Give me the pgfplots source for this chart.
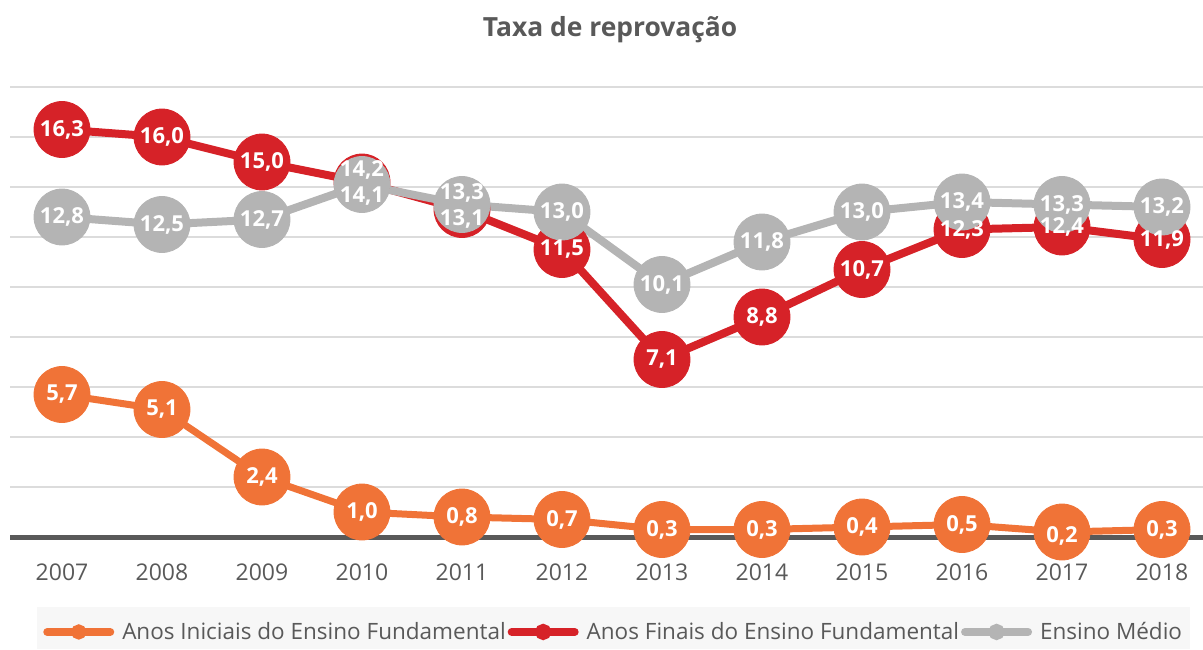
\documentclass[border=0pt]{standalone}
\usepackage{pgfplots}
\pgfplotsset{compat=1.18}
\usepackage{pgfplotstable}
\usepackage{fontspec}
\setmainfont{Open Sans}

\definecolor{cIni}{RGB}{240,115,55}
\definecolor{cFin}{RGB}{214,34,40}
\definecolor{cMed}{RGB}{180,180,180}
\definecolor{cTxt}{RGB}{89,89,89}
\definecolor{cGrid}{RGB}{220,220,220}
\definecolor{cLeg}{RGB}{247,247,247}

% x = ano, y = taxa, dy = deslocamento do rotulo (pt)
\pgfplotstableread{
x y dy
2007 5.7 0
2008 5.1 0
2009 2.4 0
2010 1.0 0
2011 0.8 0
2012 0.7 0
2013 0.3 0
2014 0.3 0
2015 0.4 0
2016 0.5 0
2017 0.2 -2
2018 0.3 0
}\iniciais
\pgfplotstableread{
x y dy
2007 16.3 0
2008 16.0 0
2009 15.0 0
2010 14.2 6
2011 13.1 -4.5
2012 11.5 0
2013 7.1 0
2014 8.8 0
2015 10.7 0
2016 12.3 0
2017 12.4 0
2018 11.9 0
}\finais
\pgfplotstableread{
x y dy
2007 12.8 0
2008 12.5 0
2009 12.7 0
2010 14.1 -6
2011 13.3 6
2012 13.0 0
2013 10.1 0
2014 11.8 0
2015 13.0 0
2016 13.4 0
2017 13.3 0
2018 13.2 0
}\medio

\pgfkeys{/pgf/number format/assume math mode=true}

\pgfplotsset{
  serie/.style={
    color=#1, line width=4pt, mark=*, mark size=14pt,
    mark options={solid, fill=#1, draw=#1, line width=0.4pt},
    legend image code/.code={
      \draw[#1, line width=4pt, line cap=round] (0pt,0pt) -- (31.5pt,0pt);
      \fill[#1] (15.75pt,0pt) circle (2pt);
    },
  },
  etiq/.style={
    draw=none, mark=none, forget plot,
    visualization depends on={\thisrow{dy} \as \dy},
    nodes near coords={\pgfmathprintnumber[fixed,fixed zerofill,precision=1,use comma]{\pgfplotspointmeta}},
    every node near coord/.append style={anchor=center, yshift=\dy pt, text=white,
      font=\bfseries\fontsize{11}{13}\selectfont},
  },
}

\begin{document}
\begin{tikzpicture}
\path[use as bounding box] (-5pt,-56pt) rectangle (596.5pt,268.5pt);
\fill[cLeg] (13.5pt,-35pt) rectangle (590pt,-56pt);
\begin{axis}[
  at={(0,0)}, anchor=south west,
  scale only axis, width=596.5pt, height=225pt,
  xmin=2006.48, xmax=2018.41, ymin=0, ymax=18,
  clip=false,
  axis line style={draw=none},
  ytick={2,4,...,18}, yticklabels={},
  ymajorgrids, major grid style={cGrid, line width=1.2pt},
  extra y ticks={0}, extra y tick labels={},
  extra y tick style={major grid style={cTxt, line width=2.5pt}},
  xtick={2007,...,2018},
  xticklabels={2007,2008,2009,2010,2011,2012,2013,2014,2015,2016,2017,2018},
  major tick length=0pt,
  xticklabel style={anchor=center, yshift=-17.5pt, text=cTxt, font=\fontsize{11.5}{13}\selectfont},
  title={Taxa de reprovação},
  title style={at={(0.503,1.100)}, anchor=center, text=cTxt, font=\bfseries\fontsize{13.2}{15}\selectfont},
  legend style={at={(0.506,-0.211)}, anchor=center, draw=none, fill=none,
    text=cTxt, font=\fontsize{11.25}{13}\selectfont, nodes={inner xsep=1pt}},
  legend columns=3,
  legend cell align=left,
  legend style={/tikz/every even column/.append style={column sep=0pt},
                /tikz/every odd column/.append style={column sep=3pt}},
]
\addplot[serie=cIni, line width=3.5pt] table[x=x, y=y] {\iniciais};
\addplot[serie=cFin] table[x=x, y=y] {\finais};
\addplot[serie=cMed] table[x=x, y=y] {\medio};
\legend{Anos Iniciais do Ensino Fundamental, Anos Finais do Ensino Fundamental, Ensino Médio}
\addplot[etiq] table[x=x, y=y] {\iniciais};
\addplot[etiq] table[x=x, y=y] {\finais};
\addplot[etiq] table[x=x, y=y] {\medio};
\end{axis}
\end{tikzpicture}
\end{document}
